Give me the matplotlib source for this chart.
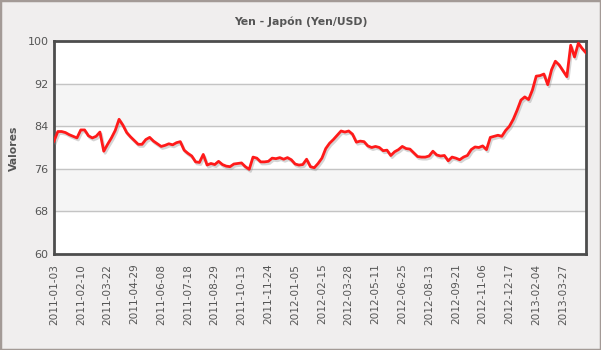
import matplotlib
matplotlib.use('Agg')
import matplotlib.pyplot as plt
import matplotlib.patheffects as pe
from matplotlib.patches import Rectangle

# one value every 4 trading days
valores = [
    81.2, 83.0, 83.0, 82.8, 82.4, 82.1, 81.8, 83.3, 83.3, 82.2,
    81.8, 82.1, 82.9, 79.3, 80.6, 81.8, 83.2, 85.3, 84.2, 82.8,
    82.0, 81.3, 80.6, 80.6, 81.5, 81.9, 81.2, 80.7, 80.2, 80.4,
    80.7, 80.5, 80.9, 81.1, 79.5, 78.9, 78.4, 77.3, 77.2, 78.7,
    76.7, 77.0, 76.8, 77.4, 76.8, 76.5, 76.4, 76.9, 77.0, 77.1,
    76.4, 75.9, 78.2, 78.0, 77.3, 77.3, 77.4, 78.0, 77.9, 78.1,
    77.8, 78.1, 77.7, 76.9, 76.7, 76.8, 77.8, 76.4, 76.2, 77.0,
    78.0, 79.8, 80.8, 81.5, 82.3, 83.1, 82.9, 83.1, 82.5, 81.0,
    81.2, 81.1, 80.3, 80.0, 80.2, 80.0, 79.4, 79.5, 78.5, 79.2,
    79.6, 80.2, 79.8, 79.7, 79.0, 78.3, 78.2, 78.2, 78.4, 79.3,
    78.6, 78.4, 78.5, 77.5, 78.2, 78.0, 77.7, 78.2, 78.5, 79.6,
    80.1, 80.0, 80.3, 79.6, 81.9, 82.1, 82.3, 82.1, 83.2, 84.0,
    85.3, 87.0, 88.9, 89.5, 89.0, 90.8, 93.4, 93.5, 93.8, 91.8,
    94.6, 96.2, 95.5, 94.4, 93.3, 99.2, 97.0, 99.6, 98.6, 97.8,
]

etiquetas = [
    '2011-01-03', '2011-02-10', '2011-03-22', '2011-04-29', '2011-06-08',
    '2011-07-18', '2011-08-29', '2011-10-13', '2011-11-24', '2012-01-05',
    '2012-02-15', '2012-03-28', '2012-05-11', '2012-06-25', '2012-08-13',
    '2012-09-21', '2012-11-06', '2012-12-17', '2013-02-04', '2013-03-27',
]
paso_etiqueta = 7  # 28 trading days between labels

cinza = '#555555'
fig = plt.figure(figsize=(6.01, 3.5), dpi=100, facecolor='#f0eeee')
fig.patches.append(Rectangle((0, 0), 1, 1, transform=fig.transFigure,
                             fill=False, edgecolor='#a39a96', linewidth=2.5))

ax = fig.add_axes([54 / 601, 1 - 254 / 350, 532 / 601, 213 / 350])
ax.set_facecolor('white')

yticks = [60, 68, 76, 84, 92, 100]
for lo, hi in [(68, 76), (84, 92)]:
    ax.axhspan(lo, hi, color='#f5f5f5', zorder=0)
for v in yticks[1:-1]:
    ax.axhline(v, color='#c4c4c4', linewidth=1, zorder=1)

x = list(range(len(valores)))
ax.plot(x, valores, color='#ff1a1a', linewidth=2.0, zorder=3,
        path_effects=[pe.SimpleLineShadow(offset=(1, -1.5), shadow_color='#888888', alpha=0.35),
                      pe.Normal()])

ax.set_xlim(0, len(valores) - 1)
ax.set_ylim(60, 100)
ax.set_yticks(yticks)
ax.set_yticklabels([str(v) for v in yticks], color=cinza, fontsize=8)
ax.set_xticks([i * paso_etiqueta for i in range(len(etiquetas))])
ax.set_xticklabels(etiquetas, rotation=90, color=cinza, fontsize=7.6)
ax.tick_params(length=0, pad=4)
ax.tick_params(axis='x', pad=7)

for s in ax.spines.values():
    s.set_color('#4d4d4d')
    s.set_linewidth(2)

fig.text(14 / 601, 1 - 148 / 350, 'Valores', rotation=90, ha='center', va='center',
         color=cinza, fontsize=7.8, fontweight='bold')
fig.text(0.5, 1 - 22 / 350, 'Yen - Japón (Yen/USD)', ha='center', va='center',
         color=cinza, fontsize=7.8, fontweight='bold')

fig.savefig('out.png', dpi=100, facecolor=fig.get_facecolor())
